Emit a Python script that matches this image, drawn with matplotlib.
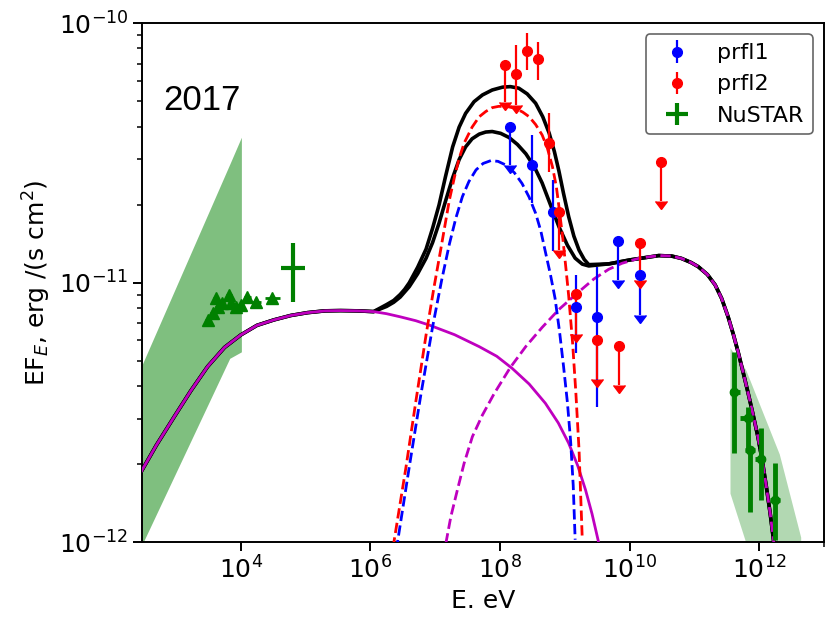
import numpy as np
import matplotlib
matplotlib.use('Agg')
import matplotlib.pyplot as plt
import matplotlib.lines as mlines
from matplotlib.ticker import FixedLocator, NullFormatter

# ---------------------------------------------------------------
# model components, log10(E / eV) vs log10(EF_E / erg s^-1 cm^-2)
# ---------------------------------------------------------------
sync_logE = [2.47, 2.70, 2.974, 3.23, 3.488, 3.75, 4.0, 4.25, 4.51, 4.77,
             5.03, 5.3, 5.54, 5.8, 6.05, 6.25, 6.46, 6.70, 6.91, 7.3, 7.68,
             7.95, 8.19, 8.45, 8.70, 8.90, 9.06, 9.20, 9.32, 9.42, 9.52]
sync_logF = [-11.725, -11.625, -11.516, -11.416, -11.323, -11.249, -11.201,
             -11.164, -11.143, -11.126, -11.115, -11.108, -11.107, -11.108,
             -11.111, -11.119, -11.131, -11.146, -11.163, -11.20, -11.246,
             -11.283, -11.33, -11.39, -11.464, -11.54, -11.618, -11.705,
             -11.798, -11.89, -11.998]

ic_logE = [7.165, 7.242, 7.343, 7.446, 7.574, 7.728, 7.908, 8.16, 8.40,
           8.65, 8.908, 9.215, 9.45, 9.677, 9.88, 10.15, 10.45, 10.65, 10.80,
           10.95, 11.06, 11.2, 11.32, 11.42, 11.52, 11.60, 11.68, 11.755,
           11.83, 11.905, 11.98, 12.05, 12.11, 12.17, 12.22, 12.28]
ic_logF = [-12.004, -11.901, -11.798, -11.696, -11.593, -11.51, -11.428,
           -11.326, -11.245, -11.172, -11.103, -11.035, -10.985, -10.948,
           -10.925, -10.905, -10.895, -10.897, -10.906, -10.922, -10.938,
           -10.968, -11.008, -11.06, -11.131, -11.198, -11.272, -11.348,
           -11.426, -11.508, -11.593, -11.69, -11.786, -11.89, -11.99, -12.12]

# pion-decay bumps for the two flare profiles
comp1_logE = [6.40, 6.60, 6.78, 6.96, 7.10, 7.22, 7.32, 7.42, 7.52, 7.63,
              7.74, 7.86, 7.97, 8.09, 8.22, 8.34, 8.45, 8.55, 8.63, 8.70,
              8.78, 8.85, 8.92, 8.98, 9.04, 9.09, 9.13, 9.16]
comp1_logF = [-12.03, -11.71, -11.43, -11.17, -10.99, -10.85, -10.75,
              -10.668, -10.61, -10.565, -10.54, -10.529, -10.532, -10.546,
              -10.575, -10.617, -10.67, -10.732, -10.80, -10.88, -10.97,
              -11.06, -11.19, -11.32, -11.46, -11.61, -11.78, -11.99]

comp2_logE = [6.35, 6.55, 6.70, 6.86, 6.98, 7.08, 7.15, 7.22, 7.30, 7.37,
              7.45, 7.57, 7.68, 7.78, 7.88, 7.98, 8.10, 8.24, 8.35, 8.45,
              8.55, 8.65, 8.73, 8.81, 8.87, 8.91, 8.97, 9.02, 9.06, 9.12,
              9.17, 9.22, 9.27]
comp2_logF = [-12.02, -11.71, -11.46, -11.20, -11.02, -10.88, -10.78,
              -10.68, -10.59, -10.52, -10.46, -10.40, -10.36, -10.34, -10.325,
              -10.32, -10.32, -10.328, -10.342, -10.36, -10.39, -10.43,
              -10.48, -10.553, -10.63, -10.707, -10.83, -10.95, -11.05,
              -11.23, -11.42, -11.644, -11.99]

# total SED where it departs from the single components
tot1_logE = [6.25, 6.36, 6.46, 6.60, 6.73, 6.86, 6.96, 7.06, 7.16, 7.27,
             7.37, 7.47, 7.57, 7.68, 7.78, 7.88, 8.01, 8.14, 8.27, 8.40,
             8.53, 8.65, 8.78, 8.91, 9.04, 9.16, 9.27, 9.37, 9.68, 10.0]
tot1_logF = [-11.091, -11.075, -11.055, -11.015, -10.965, -10.905, -10.845,
             -10.77, -10.685, -10.595, -10.525, -10.476, -10.445, -10.427,
             -10.419, -10.417, -10.424, -10.44, -10.467, -10.503, -10.553,
             -10.615, -10.70, -10.784, -10.855, -10.905, -10.928, -10.935,
             -10.927, -10.912]
tot2_logE = [6.25, 6.36, 6.46, 6.53, 6.60, 6.73, 6.86, 6.96, 7.06, 7.16,
             7.27, 7.37, 7.47, 7.60, 7.73, 7.88, 8.04, 8.16, 8.29, 8.42,
             8.55, 8.66, 8.76, 8.84, 8.91, 8.98, 9.06, 9.14, 9.22, 9.30,
             9.37, 9.68, 10.0]
tot2_logF = [-11.084, -11.068, -11.045, -11.025, -11.0, -10.94, -10.87,
             -10.79, -10.70, -10.59, -10.476, -10.40, -10.347, -10.302,
             -10.276, -10.257, -10.246, -10.244, -10.25, -10.272, -10.308,
             -10.36, -10.424, -10.495, -10.570, -10.655, -10.745, -10.82,
             -10.874, -10.91, -10.93, -10.927, -10.912]

# ---------------------------------------------------------------
# Fermi-LAT points (log values); lo/hi = ends of the error bar
# ---------------------------------------------------------------
p1_logE = [8.16, 8.49, 8.82, 9.174, 9.497, 9.82, 10.165]
p1_logF = [-10.401, -10.546, -10.726, -11.092, -11.132, -10.838, -10.970]
p1_lo = [-10.545, -10.694, -10.878, -11.272, -11.477, -10.990, -11.125]
p1_hi = [-10.401, -10.43, -10.604, -10.97, -10.938, -10.838, -10.970]
p1_ul = [True, False, False, False, False, True, True]

p2_logE = [8.085, 8.246, 8.420, 8.585, 8.754, 8.918, 9.174, 9.497, 9.831,
           10.165, 10.49]
p2_logF = [-10.161, -10.197, -10.106, -10.139, -10.46, -10.726, -11.043,
           -11.219, -11.244, -10.845, -10.534]
p2_lo = [-10.305, -10.315, -10.18, -10.218, -10.573, -10.872, -11.198,
         -11.37, -11.392, -10.99, -10.685]
p2_hi = [-10.161, -10.084, -10.037, -10.071, -10.346, -10.726, -11.043,
         -11.219, -11.244, -10.845, -10.534]
p2_ul = [True, True, False, False, False, True, True, True, True, True, True]

# ---------------------------------------------------------------
# X-ray and TeV data
# ---------------------------------------------------------------
xrt_logE = [3.488, 3.565, 3.615, 3.642, 3.718, 3.820, 3.846, 3.923, 4.0,
            4.103, 4.231, 4.488]
xrt_logF = [-11.143, -11.118, -11.060, -11.092, -11.079, -11.047, -11.079,
            -11.092, -11.086, -11.054, -11.073, -11.060]
xrt_dlogE = [0.04, 0.04, 0.04, 0.04, 0.04, 0.04, 0.04, 0.05, 0.05, 0.06,
             0.08, 0.12]

nustar_logE = [4.805]
nustar_logF = [-10.944]
nustar_E_lo = [4.626]
nustar_E_hi = [4.985]
nustar_lo = [-11.073]
nustar_hi = [-10.848]

tev_logE = [11.615, 11.831, 11.857, 12.035, 12.242]
tev_logF = [-11.420, -11.521, -11.644, -11.680, -11.837]
tev_E_lo = [11.549, 11.708, 11.780, 11.934, 12.165]
tev_E_hi = [11.703, 11.908, 11.934, 12.088, 12.318]
tev_lo = [-11.657, -11.644, -11.882, -11.837, -11.991]
tev_hi = [-11.266, -11.479, -11.632, -11.561, -11.696]

# butterflies
bt1_logE = [2.40, 3.83, 4.01]
bt1_lo = [-12.05, -11.291, -11.266]
bt1_hi = [-11.36, -10.543, -10.439]

bt2_logE = [11.549, 11.78, 11.80, 12.31, 12.64]
bt2_lo = [-11.811, -11.991, -12.01, -12.5, -12.8]
bt2_hi = [-11.25, -11.33, -11.34, -11.66, -11.98]


def p10(v):
    return 10.0 ** np.asarray(v, dtype=float)


plt.rcParams.update({
    'font.size': 18,
    'axes.linewidth': 1.4,
    'xtick.major.size': 6.3, 'xtick.major.width': 1.4,
    'ytick.major.size': 6.3, 'ytick.major.width': 1.4,
    'xtick.minor.size': 3.6, 'xtick.minor.width': 1.1,
    'ytick.minor.size': 3.6, 'ytick.minor.width': 1.1,
})

fig = plt.figure(figsize=(8.37, 6.2), dpi=100)
ax = fig.add_axes([0.1697, 0.1253, 0.8148, 0.8371])
ax.set_xscale('log')
ax.set_yscale('log')

# butterflies
ax.fill_between(p10(bt1_logE), p10(bt1_lo), p10(bt1_hi), color='g',
                alpha=0.5, lw=0, zorder=1)
ax.fill_between(p10(bt2_logE), p10(bt2_lo), p10(bt2_hi), color='g',
                alpha=0.3, lw=0, zorder=1)

# total model: synchrotron head + bump region + IC tail
sync_E = np.array(sync_logE)
ic_E = np.array(ic_logE)
head = sync_E <= 6.05
tail = ic_E >= 10.45
for tE, tF in [(tot1_logE, tot1_logF), (tot2_logE, tot2_logF)]:
    xE = np.concatenate([sync_E[head], tE, ic_E[tail]])
    yF = np.concatenate([np.array(sync_logF)[head], tF,
                         np.array(ic_logF)[tail]])
    ax.plot(p10(xE), p10(yF), color='k', lw=2.6, zorder=2)

ax.plot(p10(sync_logE), p10(sync_logF), color='m', lw=2.0, zorder=3)
ax.plot(p10(ic_logE), p10(ic_logF), color='m', lw=2.0, ls='--', zorder=3)
ax.plot(p10(comp1_logE), p10(comp1_logF), color='b', lw=2.0, ls='--', zorder=3)
ax.plot(p10(comp2_logE), p10(comp2_logF), color='r', lw=2.0, ls='--', zorder=3)


def lat_points(logE, logF, lo, hi, ul, color, label):
    E, F, L, H = p10(logE), p10(logF), p10(lo), p10(hi)
    ul = np.array(ul)
    eb = ax.errorbar(E, F, yerr=[F - L, H - F], fmt='o', color=color, ms=7,
                     elinewidth=1.6, label=label, zorder=5)
    ax.plot(E[ul], L[ul], ls='none', marker=mlines.CARETDOWNBASE,
            color=color, ms=8, zorder=5)
    return eb


h1 = lat_points(p1_logE, p1_logF, p1_lo, p1_hi, p1_ul, 'b', 'prfl1')
h2 = lat_points(p2_logE, p2_logF, p2_lo, p2_hi, p2_ul, 'r', 'prfl2')

# X-ray spectrum
xE = p10(xrt_logE)
ax.errorbar(xE, p10(xrt_logF),
            xerr=[xE - p10(np.array(xrt_logE) - np.array(xrt_dlogE)),
                  p10(np.array(xrt_logE) + np.array(xrt_dlogE)) - xE],
            fmt='^', color='g', ms=8, elinewidth=2, zorder=4)

nE, nF = p10(nustar_logE), p10(nustar_logF)
h3 = ax.errorbar(nE, nF, xerr=[nE - p10(nustar_E_lo), p10(nustar_E_hi) - nE],
                 yerr=[nF - p10(nustar_lo), p10(nustar_hi) - nF],
                 fmt='none', ecolor='g', elinewidth=3, label='NuSTAR', zorder=4)

# TeV spectrum
tE, tF = p10(tev_logE), p10(tev_logF)
ax.errorbar(tE, tF, xerr=[tE - p10(tev_E_lo), p10(tev_E_hi) - tE],
            yerr=[tF - p10(tev_lo), p10(tev_hi) - tF],
            fmt='o', color='g', ms=6, elinewidth=3.5, zorder=4)

ax.set_xlim(3e2, 1e13)
ax.set_ylim(1e-12, 1e-10)
ax.xaxis.set_major_locator(FixedLocator([1e4, 1e6, 1e8, 1e10, 1e12]))
ax.xaxis.set_minor_locator(FixedLocator([1e13]))
ax.xaxis.set_minor_formatter(NullFormatter())
ax.set_xlabel('E. eV')
ax.set_ylabel(r'EF$_E$, erg /(s cm$^2$)')

ax.text(0.031, 0.833, '2017', transform=ax.transAxes, fontsize=25,
        family='Liberation Sans', va='baseline')

leg = ax.legend([h1, h2, h3], ['prfl1', 'prfl2', 'NuSTAR'], loc='upper right',
                fontsize=16, edgecolor='0.25', framealpha=0.8)
leg.get_frame().set_linewidth(1.2)

fig.savefig('out.png', dpi=100)
